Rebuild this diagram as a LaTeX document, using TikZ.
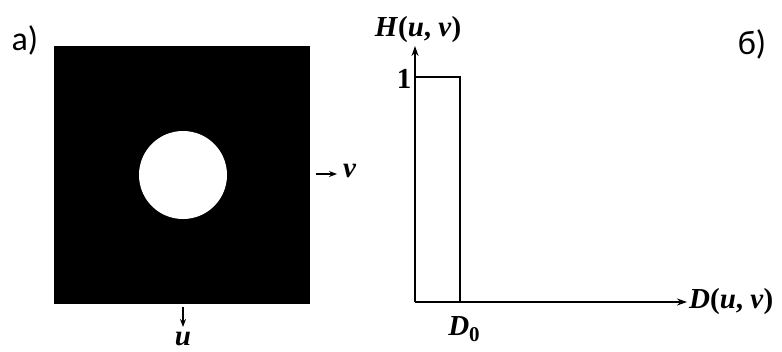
\documentclass[tikz,border=0pt]{standalone}
\usepackage{fontspec}
\setmainfont{Liberation Serif}
\newfontfamily\labfont{Carlito}
\usetikzlibrary{arrows.meta}
\begin{document}
\begin{tikzpicture}[x=1pt,y=-1pt,
  mathlab/.style={inner sep=0pt,font=\bfseries\fontsize{29}{31}\selectfont},
  panellab/.style={inner sep=0pt,font=\labfont\fontsize{34}{36}\selectfont},
  axis/.style={line width=1.8pt,-{Stealth[length=10pt,width=7pt]}},
  smallarr/.style={line width=1.4pt,-{Stealth[length=8pt,width=6pt]}}]
\useasboundingbox (0,0) rectangle (782,351);
% panel a
\fill[black] (54,46) rectangle (310,304);
\fill[white] (183,175) circle (44);
\node[panellab] (la) at (25,40) {а)};
\coordinate (vs) at (316,174);
\coordinate (ve) at (337,174);
\draw[smallarr] (vs) -- (ve);
\node[mathlab,anchor=west] (vl) at (343,171) {\textit{v}};
\coordinate (us) at (183,307);
\coordinate (ue) at (183,327);
\draw[smallarr] (us) -- (ue);
\node[mathlab,anchor=base] (ul) at (183,345) {\textit{u}};
% panel b
\node[panellab] (lb) at (752,44) {б)};
\coordinate (o) at (415,302);
\coordinate (ytip) at (415,46);
\coordinate (xtip) at (687,302);
\draw[axis] (o) -- (ytip);
\draw[axis] (o) -- (xtip);
\coordinate (rt) at (415,77);
\coordinate (rc) at (460,77);
\coordinate (rb) at (460,302);
\draw[line width=1.5pt] (rt) -- (rc) -- (rb);
\node[mathlab] (one) at (404,79) {1};
\node[mathlab] (H) at (418,30) {\textit{H}(\textit{u}, \textit{v})};
\node[mathlab] (D0) at (464,329) {\textit{D}\raisebox{-0.22em}{\fontsize{21}{23}\selectfont 0}};
\node[mathlab,anchor=west] (D) at (689,302) {\textit{D}(\textit{u}, \textit{v})};
\end{tikzpicture}
\end{document}
